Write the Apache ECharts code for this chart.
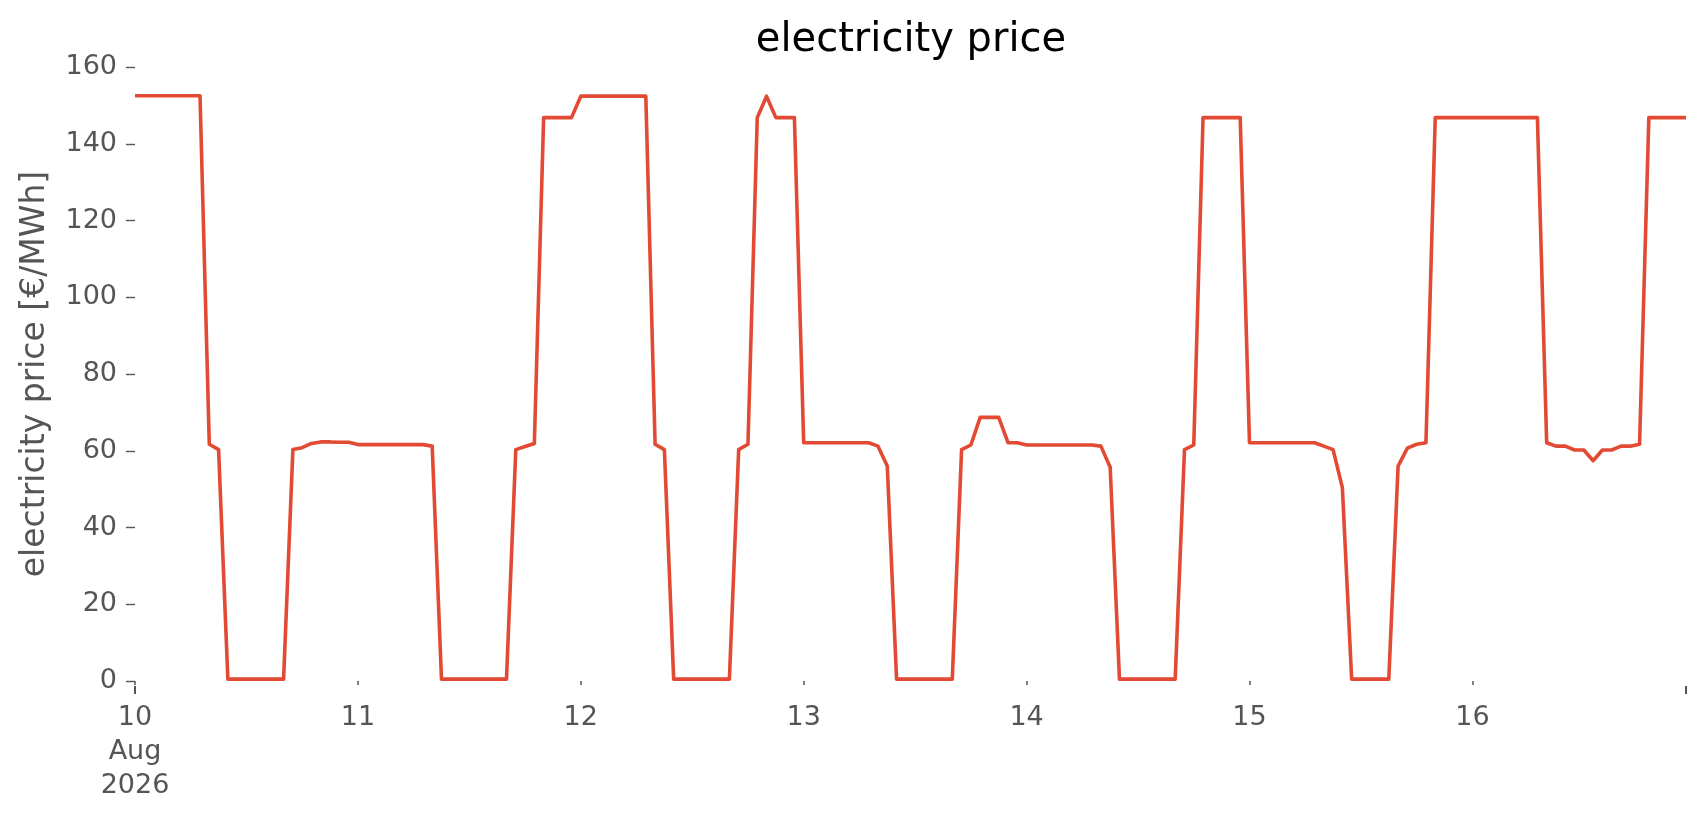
<!DOCTYPE html>
<html>
<head>
<meta charset="utf-8">
<script src="https://cdn.jsdelivr.net/npm/echarts@6/dist/echarts.min.js"></script>
<style>
html,body{margin:0;padding:0;background:#fff;}
#chart{width:1706px;height:815px;}
</style>
</head>
<body>
<div id="chart"></div>
<script>
// hourly electricity price, 10 Aug 2026 00:00 .. 16 Aug 2026 23:00 (hour index 0..167)
const day1 = [152.5,152.5,152.5,152.5,152.5,152.5,152.5,152.5,61.7,60.3,0.5,0.5,0.5,0.5,0.5,0.5,0.5,60.3,60.8,61.9,62.3,62.3,62.2,62.2];
const day2 = [61.6,61.6,61.6,61.6,61.6,61.6,61.6,61.6,61.2,0.5,0.5,0.5,0.5,0.5,0.5,0.5,0.5,60.3,61.1,61.9,146.8,146.8,146.8,146.8];
const day3 = [152.4,152.4,152.4,152.4,152.4,152.4,152.4,152.4,61.7,60.3,0.5,0.5,0.5,0.5,0.5,0.5,0.5,60.3,61.7,146.8,152.4,146.8,146.8,146.8];
const day4 = [62.1,62.1,62.1,62.1,62.1,62.1,62.1,62.1,61.2,56.0,0.5,0.5,0.5,0.5,0.5,0.5,0.5,60.3,61.5,68.7,68.7,68.7,62.1,62.1];
const day5 = [61.5,61.5,61.5,61.5,61.5,61.5,61.5,61.5,61.2,55.7,0.5,0.5,0.5,0.5,0.5,0.5,0.5,60.3,61.5,146.8,146.8,146.8,146.8,146.8];
const day6 = [62.1,62.1,62.1,62.1,62.1,62.1,62.1,62.1,61.2,60.3,50.4,0.5,0.5,0.5,0.5,0.5,56.0,60.7,61.7,62.1,146.8,146.8,146.8,146.8];
const day7 = [146.8,146.8,146.8,146.8,146.8,146.8,146.8,146.8,62.1,61.2,61.2,60.2,60.2,57.4,60.2,60.2,61.2,61.2,61.7,146.8,146.8,146.8,146.8,146.8];
const prices = [].concat(day1, day2, day3, day4, day5, day6, day7);
const dayTickLabels = ['10\nAug\n2026','11','12','13','14','15','16'];
const yTicks = [0,20,40,60,80,100,120,140,160];

const seriesData = prices.map((v, i) => [i, v]);
const FONT = 'DejaVu Sans';
const GREY = '#555555';

const chart = echarts.init(document.getElementById('chart'), null, {renderer: 'canvas'});
chart.setOption({
  backgroundColor: '#ffffff',
  animation: false,
  title: {
    text: 'electricity price',
    left: 911,
    top: 21,
    textAlign: 'center',
    padding: 0,
    textStyle: {fontFamily: FONT, fontSize: 40, fontWeight: 'normal', color: '#000000'}
  },
  grid: {left: 135, right: 20, top: 67, bottom: 134, containLabel: false},
  xAxis: [{
    type: 'value',
    min: 0,
    max: prices.length - 1,
    interval: 24,
    offset: 5,
    axisLine: {show: false},
    splitLine: {show: false},
    axisTick: {show: true, length: 4, lineStyle: {color: GREY, width: 1.5}},
    axisLabel: {
      show: true,
      margin: 15,
      fontFamily: FONT,
      fontSize: 27,
      lineHeight: 34,
      color: GREY,
      showMaxLabel: false,
      formatter: function (v) {
        const idx = Math.round(v / 24);
        return (v % 24 === 0 && idx < dayTickLabels.length) ? dayTickLabels[idx] : '';
      }
    }
  }, {
    type: 'value',
    min: 0,
    max: prices.length - 1,
    interval: prices.length - 1,
    position: 'bottom',
    offset: 5,
    axisLine: {show: false},
    splitLine: {show: false},
    axisTick: {show: true, length: 8, lineStyle: {color: GREY, width: 2}},
    axisLabel: {show: false}
  }],
  yAxis: {
    type: 'value',
    min: yTicks[0],
    max: yTicks[yTicks.length - 1],
    interval: 20,
    name: 'electricity price [€/MWh]',
    nameLocation: 'middle',
    nameGap: 83,
    nameTextStyle: {fontFamily: FONT, fontSize: 33, color: GREY},
    axisLine: {show: false},
    splitLine: {show: false},
    axisTick: {show: true, length: 9, lineStyle: {color: GREY, width: 1.4}},
    axisLabel: {margin: 18, fontFamily: FONT, fontSize: 27, color: GREY, padding: [8, 0, 0, 0]}
  },
  series: [{
    type: 'line',
    xAxisIndex: 0,
    data: seriesData,
    showSymbol: false,
    symbol: 'none',
    lineStyle: {color: '#E24A33', width: 3.6, join: 'round'},
    emphasis: {disabled: true}
  }]
});
</script>
</body>
</html>
